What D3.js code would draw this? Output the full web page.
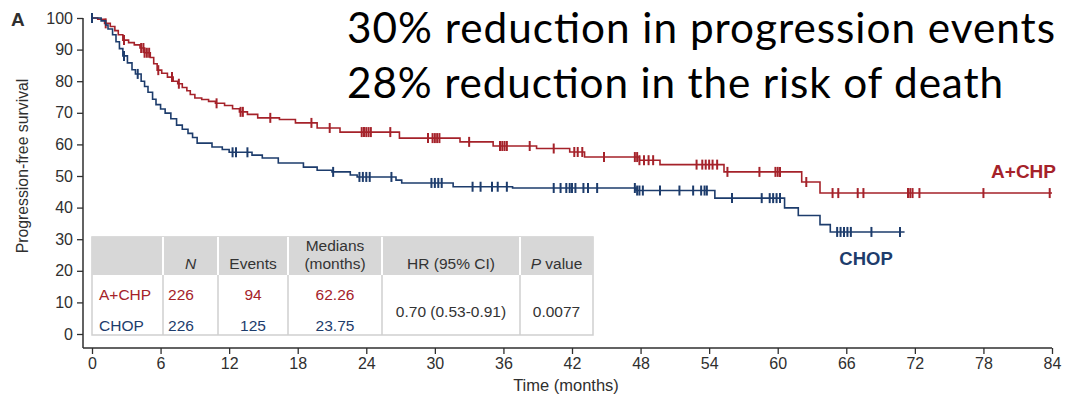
<!DOCTYPE html>
<html>
<head>
<meta charset="utf-8">
<script src="https://cdn.jsdelivr.net/npm/d3@7/dist/d3.min.js"></script>
<style>
  html, body { margin: 0; padding: 0; background: #fff; }
  svg { display: block; }
  .tick text { font-family: "Liberation Sans", Arial, sans-serif; }
</style>
</head>
<body>
<svg id="chart" width="1068" height="402"></svg>
<script>
// Kaplan-Meier progression-free survival, A+CHP vs CHOP

// A+CHP: step times (months) and survival (%) after each event
const achpTimes = [0, 0.5, 1.1, 1.6, 2.0, 2.3, 2.7, 3.2, 3.7, 4.2, 4.6, 5.1, 5.4, 5.7, 6.1, 6.6, 7.1, 7.5, 7.9, 8.3, 8.6, 9.0, 9.6, 10.2, 10.8, 11.6, 12.3, 12.9, 13.6, 14.5, 16.4, 17.8, 19.7, 21.7, 26.9, 32.2, 35.1, 38.9, 41.8, 43.1, 47.9, 49.7, 55.3, 62.1, 63.7];
const achpSurv  = [100, 99.6, 98.3, 97.3, 96.0, 94.7, 93.0, 92.2, 91.5, 90.5, 89.0, 87.5, 85.5, 83.5, 82.5, 81.3, 80.0, 79.2, 78.0, 77.0, 75.8, 74.7, 74.2, 73.6, 73.0, 72.3, 71.3, 70.3, 69.5, 68.4, 67.9, 66.8, 65.2, 63.9, 62.0, 60.8, 59.5, 58.7, 57.6, 56.0, 55.0, 53.6, 51.3, 48.1, 44.6];
const achpEnd = 84;
const achpCensored = [1.2, 2.8, 4.3, 4.5, 4.6, 4.8, 5.0, 5.8, 7.0, 7.6, 10.9, 13.0, 13.2, 15.6, 19.2, 20.8, 23.6, 23.8, 24.0, 24.2, 24.4, 26.1, 29.4, 29.8, 30.0, 30.2, 30.4, 33.0, 35.7, 35.9, 36.1, 36.3, 38.3, 40.4, 42.2, 42.5, 42.9, 44.8, 47.5, 47.7, 47.9, 48.3, 48.7, 49.1, 52.9, 53.4, 53.7, 54.0, 54.3, 54.7, 55.6, 58.4, 59.8, 60.0, 60.2, 62.5, 64.8, 65.3, 67.0, 67.5, 71.4, 71.6, 71.8, 72.4, 78.0, 83.8];

// CHOP
const chopTimes = [0, 0.8, 1.2, 1.4, 1.8, 2.1, 2.4, 2.7, 3.1, 3.5, 3.8, 4.3, 4.6, 4.9, 5.3, 5.6, 6.0, 6.4, 6.9, 7.4, 7.9, 8.4, 8.8, 9.2, 10.5, 11.4, 12.0, 14.0, 14.9, 16.3, 18.5, 19.7, 21.0, 22.6, 23.2, 26.6, 27.1, 31.6, 36.8, 47.6, 54.5, 60.6, 61.8, 63.7, 64.6];
const chopSurv  = [100, 99.1, 97.8, 96.5, 94.7, 92.5, 90.3, 88.0, 85.8, 83.6, 82.3, 80.0, 78.3, 76.5, 74.3, 72.6, 71.2, 69.9, 68.1, 66.1, 64.8, 63.5, 62.2, 60.4, 59.2, 58.4, 57.5, 56.6, 55.7, 54.1, 52.8, 51.8, 51.3, 50.3, 49.7, 48.7, 47.8, 46.6, 46.2, 45.4, 43.0, 39.9, 37.5, 34.6, 32.3];
const chopEnd = 71.1;
const chopCensored = [0, 2.8, 4.0, 12.3, 12.6, 13.6, 21.1, 23.4, 23.7, 24.0, 24.3, 26.2, 29.7, 30.0, 30.3, 30.6, 33.3, 34.0, 35.0, 35.5, 36.3, 40.4, 41.0, 41.5, 41.8, 42.0, 42.3, 43.0, 43.4, 44.2, 47.5, 47.7, 47.9, 48.2, 49.7, 51.4, 52.6, 53.3, 53.6, 53.8, 56.0, 58.6, 59.3, 59.6, 59.9, 60.2, 65.2, 65.5, 65.8, 66.1, 66.4, 68.2, 70.7];

// Axis ticks
const xTicks = [0, 6, 12, 18, 24, 30, 36, 42, 48, 54, 60, 66, 72, 78, 84];
const yTicks = [0, 10, 20, 30, 40, 50, 60, 70, 80, 90, 100];

// Summary table
const tableHeader = ["", "N", "Events", "Medians|(months)", "HR (95% CI)", "P value"];
const armNames = ["A+CHP", "CHOP"];
const armN = ["226", "226"];
const armEvents = ["94", "125"];
const armMedians = ["62.26", "23.75"];
const hrText = "0.70 (0.53-0.91)";
const pText = "0.0077";

// Headline statements
const headlines = ["30% reduction in progression events", "28% reduction in the risk of death"];

const RED = "#a5222a";
const BLUE = "#1d3c6c";
const AXIS = "#2f2f2f";
const FONT = '"Liberation Sans", Arial, sans-serif';

const svg = d3.select("#chart");
const x = d3.scaleLinear().domain([0, 84]).range([92, 1052]);
const y = d3.scaleLinear().domain([0, 100]).range([334, 18]);
const xAxisY = 348;
const axisLeftX = 83;

// Y axis
const gy = svg.append("g").attr("transform", `translate(${axisLeftX},0)`)
  .call(d3.axisLeft(y).tickValues(yTicks).tickSize(6).tickSizeOuter(0).tickPadding(4));
gy.select(".domain").remove();
gy.selectAll(".tick line").attr("stroke", AXIS).attr("stroke-width", 1.3);
gy.selectAll(".tick text").attr("fill", AXIS).style("font-size", "16px");
svg.append("line").attr("x1", axisLeftX).attr("x2", axisLeftX)
  .attr("y1", y(100)).attr("y2", xAxisY).attr("stroke", AXIS).attr("stroke-width", 1.5);

// X axis
const gx = svg.append("g").attr("transform", `translate(0,${xAxisY})`)
  .call(d3.axisBottom(x).tickValues(xTicks).tickSize(6).tickSizeOuter(0).tickPadding(4));
gx.select(".domain").remove();
gx.selectAll(".tick line").attr("stroke", AXIS).attr("stroke-width", 1.3);
gx.selectAll(".tick text").attr("fill", AXIS).style("font-size", "16px");
svg.append("line").attr("x1", axisLeftX).attr("x2", x(84))
  .attr("y1", xAxisY).attr("y2", xAxisY).attr("stroke", AXIS).attr("stroke-width", 1.5);

// Axis titles and panel letter
svg.append("text").attr("x", 566).attr("y", 391).attr("text-anchor", "middle")
  .attr("font-family", FONT).attr("font-size", 16.5).attr("fill", AXIS).text("Time (months)");
svg.append("text").attr("transform", "translate(28,166) rotate(-90)").attr("text-anchor", "middle")
  .attr("font-family", FONT).attr("font-size", 15.8).attr("fill", AXIS).text("Progression-free survival");
svg.append("text").attr("x", 11).attr("y", 26).attr("font-family", FONT).attr("font-weight", "bold")
  .attr("font-size", 19).attr("fill", AXIS).text("A");

// Survival curves
function stepPoints(times, surv, end) {
  const pts = times.map((t, i) => [t, surv[i]]);
  pts.push([end, surv[surv.length - 1]]);
  return pts;
}
function survAt(times, surv, t) {
  let v = surv[0];
  for (let i = 0; i < times.length; i++) if (times[i] <= t) v = surv[i];
  return v;
}
const line = d3.line().x(d => x(d[0])).y(d => y(d[1])).curve(d3.curveStepAfter);

const arms = [
  { times: achpTimes, surv: achpSurv, end: achpEnd, cens: achpCensored, color: RED },
  { times: chopTimes, surv: chopSurv, end: chopEnd, cens: chopCensored, color: BLUE }
];
arms.forEach(a => {
  svg.append("path").datum(stepPoints(a.times, a.surv, a.end)).attr("d", line)
    .attr("fill", "none").attr("stroke", a.color).attr("stroke-width", 1.6);
  svg.append("g").selectAll("line").data(a.cens).join("line")
    .attr("x1", d => x(d)).attr("x2", d => x(d))
    .attr("y1", d => y(survAt(a.times, a.surv, d)) - 5)
    .attr("y2", d => y(survAt(a.times, a.surv, d)) + 5)
    .attr("stroke", a.color).attr("stroke-width", 2);
});

// Curve labels
svg.append("text").attr("x", 1056).attr("y", 178).attr("text-anchor", "end")
  .attr("font-family", FONT).attr("font-weight", "bold").attr("font-size", 19).attr("fill", RED).text("A+CHP");
svg.append("text").attr("x", 866).attr("y", 265).attr("text-anchor", "middle")
  .attr("font-family", FONT).attr("font-weight", "bold").attr("font-size", 18.5).attr("fill", BLUE).text("CHOP");

// Summary table
const colEdges = [92, 163, 218, 288, 382, 520, 593];
const tTop = 237, tHeadBottom = 275, tBottom = 335;
const tg = svg.append("g").attr("font-family", FONT).attr("font-size", 15.5);
tg.append("rect").attr("x", colEdges[0]).attr("y", tTop)
  .attr("width", colEdges[6] - colEdges[0]).attr("height", tBottom - tTop)
  .attr("fill", "#fff").attr("stroke", "#cfcfcf").attr("stroke-width", 1.5);
tg.append("rect").attr("x", colEdges[0]).attr("y", tTop)
  .attr("width", colEdges[6] - colEdges[0]).attr("height", tHeadBottom - tTop).attr("fill", "#d7d7d7");
// column separators
colEdges.slice(1, 6).forEach(cx => {
  tg.append("line").attr("x1", cx).attr("x2", cx).attr("y1", tTop).attr("y2", tHeadBottom)
    .attr("stroke", "#fff").attr("stroke-width", 2);
  tg.append("line").attr("x1", cx).attr("x2", cx).attr("y1", tHeadBottom).attr("y2", tBottom)
    .attr("stroke", "#cfcfcf").attr("stroke-width", 1.5);
});
const colMid = i => (colEdges[i] + colEdges[i + 1]) / 2;
tableHeader.forEach((h, i) => {
  if (!h) return;
  const parts = h.split("|");
  if (parts.length === 2) {
    tg.append("text").attr("x", colMid(i)).attr("y", 251).attr("text-anchor", "middle").attr("fill", "#333").text(parts[0]);
    tg.append("text").attr("x", colMid(i)).attr("y", 269).attr("text-anchor", "middle").attr("fill", "#333").text(parts[1]);
  } else if (h === "N") {
    tg.append("text").attr("x", colMid(i)).attr("y", 269).attr("text-anchor", "middle").attr("fill", "#333")
      .attr("font-style", "italic").text(h);
  } else if (h === "P value") {
    const t = tg.append("text").attr("x", colMid(i)).attr("y", 269).attr("text-anchor", "middle").attr("fill", "#333");
    t.append("tspan").attr("font-style", "italic").text("P");
    t.append("tspan").text(" value");
  } else {
    tg.append("text").attr("x", colMid(i)).attr("y", 269).attr("text-anchor", "middle").attr("fill", "#333").text(h);
  }
});
const rowY = [300, 331];
const rowColor = [RED, BLUE];
armNames.forEach((name, r) => {
  tg.append("text").attr("x", 99).attr("y", rowY[r]).attr("fill", rowColor[r]).text(name);
  tg.append("text").attr("x", 181).attr("y", rowY[r]).attr("text-anchor", "middle").attr("fill", rowColor[r]).text(armN[r]);
  tg.append("text").attr("x", colMid(2)).attr("y", rowY[r]).attr("text-anchor", "middle").attr("fill", rowColor[r]).text(armEvents[r]);
  tg.append("text").attr("x", colMid(3)).attr("y", rowY[r]).attr("text-anchor", "middle").attr("fill", rowColor[r]).text(armMedians[r]);
});
tg.append("text").attr("x", colMid(4)).attr("y", 317).attr("text-anchor", "middle").attr("fill", "#333").text(hrText);
tg.append("text").attr("x", colMid(5)).attr("y", 317).attr("text-anchor", "middle").attr("fill", "#333").text(pText);

// Headline statements: glyph size capped so the first line stays on the page,
// letter spacing stretched so each line spans its slot
const hg = svg.append("g");
const hBase = [43, 98];
const hWidths = [708, 656];
const h1 = hg.append("text").attr("x", 347).attr("y", hBase[0]).attr("font-family", "Lato, 'Open Sans', sans-serif")
  .attr("font-size", 40).attr("fill", "#000").text(headlines[0]);
const lineWidth = h1.node().getComputedTextLength();
let headSize = 40 * hWidths[0] / lineWidth;
h1.attr("font-size", headSize);
const glyphTop = h1.node().getBBox().y;
if (glyphTop < 1) {
  headSize = headSize * (hBase[0] - 1) / (hBase[0] - glyphTop);
  h1.attr("font-size", headSize);
}
h1.attr("textLength", hWidths[0]).attr("lengthAdjust", "spacing");
hg.append("text").attr("x", 347).attr("y", hBase[1]).attr("font-family", "Lato, 'Open Sans', sans-serif")
  .attr("font-size", headSize).attr("fill", "#000")
  .attr("textLength", hWidths[1]).attr("lengthAdjust", "spacing").text(headlines[1]);
</script>
</body>
</html>
